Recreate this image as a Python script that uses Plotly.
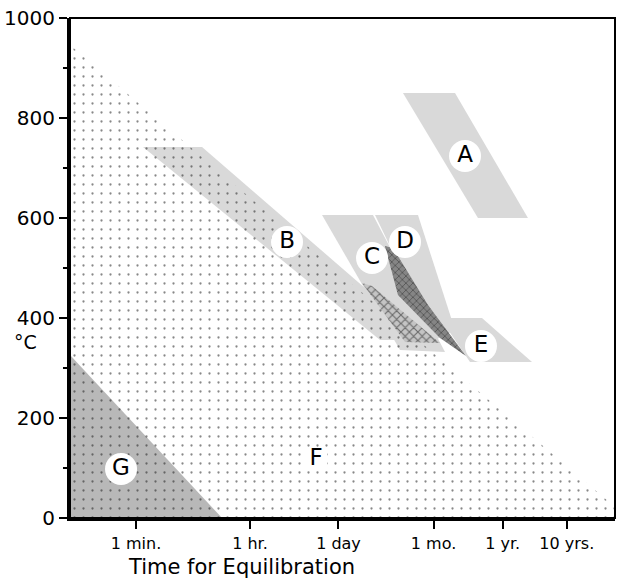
import plotly.graph_objects as go

# Time axis in log10(seconds); temperatures in °C
tick_seconds_log = [1.778, 3.556, 4.937, 6.420, 7.499, 8.499]
tick_labels = ["1 min.", "1 hr.", "1 day", "1 mo.", "1 yr.", "10 yrs."]
y_ticks = [0, 200, 400, 600, 800, 1000]

# Region polygons (log10 time [s], temperature [°C])
F_time = [0.748, 9.251, 9.251, 0.748]
F_temp = [946, 22, 0, 0]
G_time = [0.748, 3.120, 0.748]
G_temp = [326, 0, 0]
A_time = [5.943, 6.755, 7.893, 7.113]
A_temp = [850, 850, 600, 600]
B_time = [1.887, 2.808, 6.287, 5.585]
B_temp = [742, 742, 356, 356]
C_time = [4.680, 5.475, 6.599, 5.897]
C_temp = [606, 606, 332, 336]
D_time = [5.507, 6.177, 6.755, 6.443]
D_temp = [606, 606, 376, 356]
E_time = [6.521, 7.176, 7.956, 6.989]
E_temp = [400, 400, 312, 312]
HC_time = [5.304, 5.460, 6.521, 5.975]
HC_temp = [470, 464, 350, 352]
HD_time = [5.662, 5.787, 6.333, 6.926, 6.521, 5.865]
HD_temp = [544, 540, 426, 324, 360, 446]

label_text = ["A", "B", "C", "D", "E", "G"]
label_time = [6.911, 4.134, 5.460, 5.975, 7.160, 1.544]
label_temp = [724, 552, 520, 552, 344, 98]
F_label_time = [4.586]
F_label_temp = [118]

FONT = "DejaVu Sans"
band_gray = "#d9d9d9"

fig = go.Figure()

def poly(xs, ys, fill, **kw):
    fig.add_trace(go.Scatter(x=xs + xs[:1], y=ys + ys[:1], mode="lines",
                             fill="toself", fillcolor=fill,
                             line=dict(width=0), hoverinfo="skip",
                             showlegend=False, **kw))

poly(G_time, G_temp, "#b8b8b8")
for xs, ys in [(A_time, A_temp), (B_time, B_temp), (C_time, C_temp),
               (D_time, D_temp), (E_time, E_temp)]:
    poly(xs, ys, band_gray)

# dotted region F (transparent background so gray shows through)
poly(F_time, F_temp, "rgba(0,0,0,0)",
     fillpattern=dict(shape=".", size=9, solidity=0.05,
                      fgcolor="#111111", bgcolor="rgba(0,0,0,0)"))

# hatched overlaps
poly(HC_time, HC_temp, "#bdbdbd",
     fillpattern=dict(shape="x", size=6, solidity=0.35,
                      fgcolor="#111111", bgcolor="#c4c4c4"))
poly(HD_time, HD_temp, "#7f7f7f",
     fillpattern=dict(shape="x", size=5, solidity=0.3,
                      fgcolor="#222222", bgcolor="#858585"))

# labels in white circles
fig.add_trace(go.Scatter(x=label_time, y=label_temp, mode="markers+text",
                         text=label_text, textposition="middle center",
                         marker=dict(size=32, color="white", line=dict(width=0)),
                         textfont=dict(family=FONT, size=23, color="black"),
                         hoverinfo="skip", showlegend=False))
fig.add_trace(go.Scatter(x=F_label_time, y=F_label_temp, mode="markers+text",
                         text=["F"], textposition="middle center",
                         marker=dict(size=22, symbol="square", color="white"),
                         textfont=dict(family=FONT, size=23, color="black"),
                         hoverinfo="skip", showlegend=False))

fig.update_layout(
    width=617, height=579,
    margin=dict(l=70, r=2, t=18, b=61),
    paper_bgcolor="white", plot_bgcolor="white",
    font=dict(family=FONT, color="black"),
    xaxis=dict(range=[0.748, 9.251], tickvals=tick_seconds_log, ticktext=tick_labels,
               ticks="outside", ticklen=8, tickwidth=2, tickcolor="black",
               ticklabelstandoff=1,
               showline=True, linewidth=3, linecolor="black",
               showgrid=False, zeroline=False, automargin=False,
               tickfont=dict(family=FONT, size=16, color="black")),
    yaxis=dict(range=[0, 1000], tickvals=y_ticks,
               ticks="outside", ticklen=8, tickwidth=2, tickcolor="black",
               showline=True, linewidth=3, linecolor="black",
               showgrid=False, zeroline=False, automargin=False,
               minor=dict(dtick=100, ticks="outside", ticklen=4, tickwidth=2,
                          tickcolor="black", showgrid=False),
               tickfont=dict(family=FONT, size=20, color="black")),
    shapes=[dict(type="rect", xref="paper", yref="paper", x0=0, x1=1, y0=0, y1=1,
                 line=dict(color="black", width=2), layer="above")],
    annotations=[
        dict(text="Time for Equilibration", xref="paper", yref="paper",
             x=0.314, y=-0.098, xanchor="center", yanchor="middle", showarrow=False,
             font=dict(family=FONT, size=21, color="black")),
        dict(text="°C", xref="paper", yref="y", x=-0.081, y=352,
             xanchor="center", yanchor="middle", showarrow=False,
             font=dict(family=FONT, size=19, color="black")),
    ],
)

fig.write_html("out.html", config={"displayModeBar": False},
               post_script="document.body.style.margin='0';document.body.style.overflow='hidden';")
